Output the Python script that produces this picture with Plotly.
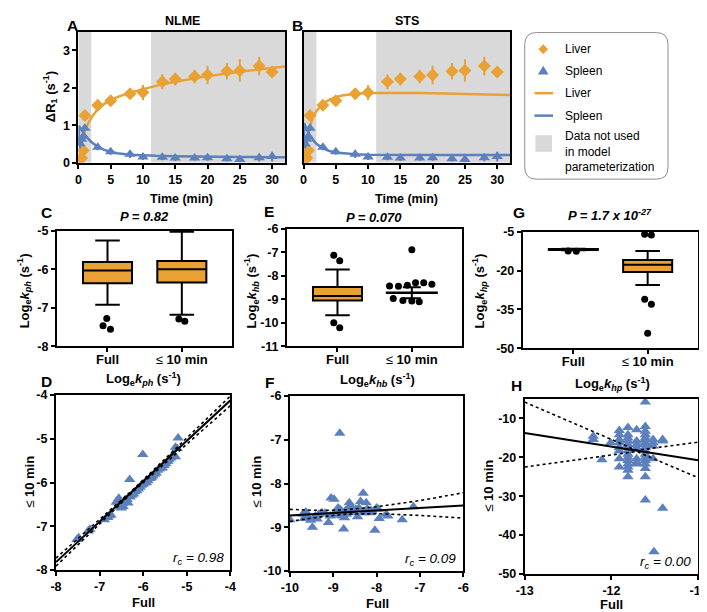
import plotly.graph_objects as go

# ---- data ----
# panels A/B: measured delta R1 (mean +/- error) for liver and spleen
times = [0.25, 0.5, 0.75, 1, 3, 5, 8, 10, 13, 15, 18, 20, 23, 25, 28, 30]
liver = [0.08, 0.12, 0.32, 1.26, 1.53, 1.65, 1.84, 1.87, 2.16, 2.23, 2.30, 2.34, 2.44, 2.46, 2.58, 2.42]
liver_err = [0.05, 0.08, 0.10, 0.12, 0.12, 0.13, 0.15, 0.20, 0.20, 0.17, 0.18, 0.25, 0.22, 0.30, 0.25, 0.15]
spleen = [0.50, 0.62, 0.70, 0.92, 0.41, 0.29, 0.22, 0.15, 0.14, 0.12, 0.12, 0.13, 0.10, 0.08, 0.13, 0.16]
spleen_err = [0.12, 0.10, 0.10, 0.08, 0.08, 0.08, 0.10, 0.08, 0.08, 0.08, 0.07, 0.08, 0.07, 0.07, 0.10, 0.13]

# model fits
fit_t = [0, 0.1, 0.25, 0.5, 1, 1.5, 2, 3, 4, 5, 6, 8, 10, 12, 15, 18, 20, 25, 30, 32]
nlme_liver_fit = [0, 0.12, 0.28, 0.50, 0.82, 1.04, 1.20, 1.43, 1.57, 1.67, 1.75, 1.87, 1.97, 2.05, 2.16, 2.25, 2.31, 2.43, 2.54, 2.57]
nlme_spleen_fit = [0.45, 0.98, 0.93, 0.86, 0.74, 0.64, 0.55, 0.42, 0.34, 0.29, 0.25, 0.21, 0.19, 0.18, 0.17, 0.16, 0.155, 0.15, 0.14, 0.14]
sts_liver_fit = [0, 0.15, 0.33, 0.60, 0.98, 1.22, 1.38, 1.57, 1.68, 1.75, 1.79, 1.84, 1.86, 1.865, 1.865, 1.86, 1.85, 1.835, 1.815, 1.805]
sts_spleen_fit = [0.45, 1.05, 0.98, 0.88, 0.72, 0.60, 0.50, 0.38, 0.31, 0.27, 0.25, 0.22, 0.21, 0.205, 0.20, 0.20, 0.20, 0.20, 0.20, 0.20]
excluded_windows = [(0, 2), (11.25, 32)]

# panel C: log kph box stats (q1, median, q3, lower whisker, upper whisker)
c_full_box = [-6.36, -6.03, -5.81, -6.92, -5.25]
c_ten_box = [-6.34, -6.00, -5.78, -7.18, -5.02]
c_out_x = [-0.01, -0.06, 0.04, 0.96, 1.04]
c_out_y = [-7.28, -7.47, -7.56, -7.29, -7.35]

# panel E: log khb
e_full_box = [-9.05, -8.86, -8.47, -9.68, -7.73]
e_out_x = [-0.05, 0.03, -0.05, 0.03]
e_out_y = [-7.12, -7.35, -10.0, -10.21]
e_ten_x = [1.0, 0.70, 0.82, 0.94, 1.05, 1.16, 1.27, 0.75, 0.88, 1.0, 1.10]
e_ten_y = [-6.88, -8.43, -8.44, -8.40, -8.29, -8.29, -8.36, -8.96, -9.05, -9.07, -9.10]
e_ten_center = -8.72
e_ten_err = [0.24, 0.23]

# panel G: log khp
g_full_box = [-12.0, -11.8, -11.6, -12.1, -11.5]
g_ten_box = [-20.5, -17.7, -15.9, -25.5, -12.4]
g_out_x = [-0.07, 0.04, 0.96, 1.05, 0.96, 1.05, 1.0]
g_out_y = [-12.4, -12.5, -5.9, -6.2, -31.1, -33.0, -44.2]

# panel D: full vs <=10 min, log kph
d_points = [(-7.52, -7.30), (-7.48, -7.26), (-7.26, -7.11), (-7.22, -7.07), (-6.89, -6.85),
            (-6.81, -6.80), (-6.78, -6.76), (-6.74, -6.74), (-6.56, -6.36), (-6.52, -6.56),
            (-6.48, -6.48), (-6.44, -6.44), (-6.41, -6.39), (-6.37, -6.39), (-6.31, -5.93),
            (-6.30, -6.33), (-6.26, -6.29), (-6.22, -6.26), (-6.19, -6.21), (-6.15, -6.19),
            (-6.11, -6.15), (-6.07, -6.11), (-6.04, -6.06), (-6.01, -5.36), (-6.00, -6.04),
            (-5.96, -6.01), (-5.93, -6.00), (-5.89, -5.96), (-5.85, -5.91), (-5.81, -5.89),
            (-5.78, -5.85), (-5.74, -5.81), (-5.70, -5.78), (-5.67, -5.72), (-5.63, -5.69),
            (-5.59, -5.66), (-5.56, -5.67), (-5.52, -5.61), (-5.48, -5.57), (-5.44, -5.52),
            (-5.41, -5.48), (-5.37, -5.44), (-5.33, -5.41), (-5.30, -5.37), (-5.26, -5.41),
            (-5.26, -5.19), (-5.22, -5.22), (-5.20, -4.98), (-6.46, -6.55), (-6.35, -6.47),
            (-6.50, -6.58), (-6.62, -6.45)]
d_fit_x = [-8, -4]
d_fit_y = [-7.82, -4.12]
d_ci_x = [-8, -6.2, -4]
d_ci_hi = [-7.73, -6.13, -4.02]
d_ci_lo = [-7.91, -6.18, -4.24]

# panel F: log khb
f_points = [(-10.0, -8.83), (-9.70, -8.70), (-9.63, -8.65), (-9.67, -8.80), (-9.56, -8.78),
            (-9.52, -8.84), (-9.48, -9.00), (-9.41, -8.74), (-9.37, -8.81), (-9.33, -8.70),
            (-9.26, -8.67), (-9.19, -8.68), (-9.11, -8.89), (-9.07, -8.74), (-9.05, -8.33),
            (-8.98, -8.36), (-8.96, -8.67), (-8.93, -8.63), (-8.89, -8.56), (-8.85, -8.59),
            (-8.85, -6.85), (-8.81, -8.63), (-8.78, -8.74), (-8.76, -9.04), (-8.74, -8.78),
            (-8.70, -8.70), (-8.67, -8.59), (-8.63, -8.44), (-8.59, -8.52), (-8.56, -8.63),
            (-8.52, -8.67), (-8.48, -8.59), (-8.44, -8.76), (-8.41, -8.56), (-8.37, -8.41),
            (-8.31, -8.22), (-8.30, -8.67), (-8.24, -8.44), (-8.22, -8.59), (-8.19, -8.63),
            (-8.15, -8.67), (-8.11, -8.63), (-8.04, -9.07), (-8.00, -8.56), (-7.96, -8.59),
            (-7.94, -8.80), (-7.78, -8.70), (-7.74, -8.74), (-7.41, -8.83), (-7.15, -8.53),
            (-8.88, -8.72), (-8.83, -8.67), (-8.72, -8.62), (-9.00, -8.72)]
f_fit_x = [-10, -6]
f_fit_y = [-8.73, -8.50]
f_ci_x = [-10, -9.5, -9, -8.7, -8, -7, -6]
f_ci_hi = [-8.59, -8.61, -8.61, -8.60, -8.53, -8.39, -8.21]
f_ci_lo = [-8.87, -8.79, -8.73, -8.70, -8.69, -8.73, -8.79]

# panel H: log khp (columns of full value -> list of <=10 min values)
h_columns = {
    -12.21: [-14.6, -15.4],
    -12.11: [-20.6],
    -12.01: [-16.25],
    -11.91: [-13.1, -14.2, -15.4, -16.25, -17.5, -18.3, -20.4, -22.5],
    -11.81: [-12.3, -14.2, -15.0, -15.8, -16.7, -17.5, -18.3, -19.2, -20.0, -20.8, -21.7, -22.5, -23.3, -25.0],
    -11.71: [-12.9, -15.8, -16.7, -17.5, -20.4, -21.3, -21.7],
    -11.61: [-5.8, -12.1, -13.3, -14.2, -15.0, -15.4, -16.25, -16.7, -17.5, -18.3, -19.2, -20.0, -20.8, -21.7, -22.9, -25.0, -31.0],
    -11.52: [-15.4, -16.25, -17.1, -20.4],
    -11.51: [-44.3],
    -11.41: [-15.4, -15.8, -33.1],
}
h_fit_x = [-13, -11]
h_fit_y = [-13.75, -20.75]
h_ci_x = [-13, -11.71, -11]
h_ci_hi = [-5.8, -18.2, -16.1]
h_ci_lo = [-22.5, -18.5, -25.25]

ORANGE = "#E8A132"
BLUE = "#5B80BD"
GREY = "#D9D9D9"
FONT = "Arial, Liberation Sans, sans-serif"
W, H = 707, 612


def px(x):
    return x / W


def py(y):
    return 1 - y / H


fig = go.Figure()

# ---- A and B: time courses ----
for xa, ya, lfit, sfit in [("x", "y", nlme_liver_fit, nlme_spleen_fit),
                           ("x2", "y2", sts_liver_fit, sts_spleen_fit)]:
    fig.add_trace(go.Scatter(x=fit_t, y=lfit, mode="lines", line=dict(color=ORANGE, width=2.5),
                             xaxis=xa, yaxis=ya))
    fig.add_trace(go.Scatter(x=fit_t, y=sfit, mode="lines", line=dict(color=BLUE, width=2.5),
                             xaxis=xa, yaxis=ya))
    fig.add_trace(go.Scatter(x=times, y=liver, mode="markers",
                             marker=dict(symbol="diamond", size=10, color=ORANGE),
                             error_y=dict(type="data", array=liver_err, width=0, thickness=2, color=ORANGE),
                             xaxis=xa, yaxis=ya))
    fig.add_trace(go.Scatter(x=times, y=spleen, mode="markers",
                             marker=dict(symbol="triangle-up", size=10, color=BLUE),
                             error_y=dict(type="data", array=spleen_err, width=0, thickness=2, color=BLUE),
                             xaxis=xa, yaxis=ya))


def add_box(stats, pos, xa, ya):
    q1, med, q3, lo, hi = stats
    fig.add_trace(go.Box(x=[pos], q1=[q1], median=[med], q3=[q3], lowerfence=[lo], upperfence=[hi],
                         orientation="v", fillcolor=ORANGE, line=dict(color="black", width=2), width=0.66,
                         whiskerwidth=0.5, boxpoints=False, xaxis=xa, yaxis=ya))


def add_dots(xs, ys, xa, ya):
    fig.add_trace(go.Scatter(x=xs, y=ys, mode="markers", marker=dict(color="black", size=7),
                             xaxis=xa, yaxis=ya))


# ---- C ----
add_box(c_full_box, 0, "x3", "y3")
add_box(c_ten_box, 1, "x3", "y3")
add_dots(c_out_x, c_out_y, "x3", "y3")

# ---- E ----
add_box(e_full_box, 0, "x4", "y4")
add_dots(e_out_x, e_out_y, "x4", "y4")
add_dots(e_ten_x, e_ten_y, "x4", "y4")
fig.add_trace(go.Scatter(x=[0.65, 1.35], y=[e_ten_center] * 2, mode="lines",
                         line=dict(color="black", width=2.5), xaxis="x4", yaxis="y4"))
fig.add_trace(go.Scatter(x=[1], y=[e_ten_center], mode="markers", marker=dict(size=1, color="black"),
                         error_y=dict(type="data", symmetric=False, array=[e_ten_err[0]],
                                      arrayminus=[e_ten_err[1]], width=9, thickness=2, color="black"),
                         xaxis="x4", yaxis="y4"))

# ---- G ----
add_box(g_full_box, 0, "x5", "y5")
add_box(g_ten_box, 1, "x5", "y5")
add_dots(g_out_x, g_out_y, "x5", "y5")


# ---- D, F, H scatter ----
def add_agreement(xs, ys, fx, fy, cx, chi, clo, xa, ya):
    fig.add_trace(go.Scatter(x=xs, y=ys, mode="markers",
                             marker=dict(symbol="triangle-up", size=10, color=BLUE),
                             xaxis=xa, yaxis=ya))
    for cy in (chi, clo):
        fig.add_trace(go.Scatter(x=cx, y=cy, mode="lines", line=dict(color="black", width=1.6, dash="dot"),
                                 xaxis=xa, yaxis=ya))
    fig.add_trace(go.Scatter(x=fx, y=fy, mode="lines", line=dict(color="black", width=2),
                             xaxis=xa, yaxis=ya))


d_full = [p[0] for p in d_points]
d_ten = [p[1] for p in d_points]
add_agreement(d_full, d_ten, d_fit_x, d_fit_y, d_ci_x, d_ci_hi, d_ci_lo, "x6", "y6")

f_full = [p[0] for p in f_points]
f_ten = [p[1] for p in f_points]
add_agreement(f_full, f_ten, f_fit_x, f_fit_y, f_ci_x, f_ci_hi, f_ci_lo, "x7", "y7")

h_full, h_ten = [], []
for k, vals in h_columns.items():
    h_full += [k] * len(vals)
    h_ten += vals
add_agreement(h_full, h_ten, h_fit_x, h_fit_y, h_ci_x, h_ci_hi, h_ci_lo, "x8", "y8")

# ---- axes ----
tickfont = dict(family=FONT, size=12.5, color="black", weight="bold")


def axis(dom, rng, tickvals=None, **kw):
    d = dict(domain=dom, range=rng, showline=True, linecolor="black", linewidth=2, mirror=True,
             ticks="outside", ticklen=4, tickwidth=2, tickcolor="black", showgrid=False,
             zeroline=False, tickfont=tickfont, fixedrange=True)
    if tickvals is not None:
        # plain hyphen minus signs like the original
        d.update(tickvals=tickvals, ticktext=[str(v) for v in tickvals])
    d.update(kw)
    return d


cat_ticks = dict(tickvals=[0, 1], ticktext=["<b>Full</b>", "≤ <b>10 min</b>"],
                 tickfont=dict(family=FONT, size=13, color="black"), ticklabelstandoff=-4)

layout = dict(
    xaxis=axis([px(63), px(275)], [0, 32], [0, 5, 10, 15, 20, 25, 30], anchor="y"),
    yaxis=axis([py(151), py(17)], [0, 3.5], [0, 1, 2, 3], anchor="x"),
    xaxis2=axis([px(294), px(506)], [0, 32], [0, 5, 10, 15, 20, 25, 30], anchor="y2"),
    yaxis2=axis([py(151), py(17)], [0, 3.5], ticks="", showticklabels=False, anchor="x2"),
    xaxis3=axis([px(41), px(221)], [-0.68, 1.68], anchor="y3", **cat_ticks),
    yaxis3=axis([py(339), py(221)], [-8, -5], [-5, -6, -7, -8], anchor="x3"),
    xaxis4=axis([px(277), px(457)], [-0.68, 1.68], anchor="y4", **cat_ticks),
    yaxis4=axis([py(339), py(219)], [-11, -6], [-6, -7, -8, -9, -10, -11], anchor="x4"),
    xaxis5=axis([px(519), px(699)], [-0.68, 1.68], anchor="y5", **cat_ticks),
    yaxis5=axis([py(341), py(222)], [-50, -5], [-5, -20, -35, -50], anchor="x5"),
    xaxis6=axis([px(40), px(219)], [-8, -4], [-8, -7, -6, -5, -4], anchor="y6"),
    yaxis6=axis([py(568), py(389)], [-8, -4], [-4, -5, -6, -7, -8], anchor="x6"),
    xaxis7=axis([px(280), px(458)], [-10, -6], [-10, -9, -8, -7, -6], anchor="y7"),
    yaxis7=axis([py(569), py(390)], [-10, -6], [-6, -7, -8, -9, -10], anchor="x7"),
    xaxis8=axis([px(521), px(699)], [-13, -11], [-13, -12, -11], anchor="y8"),
    yaxis8=axis([py(572), py(393)], [-50, -5], [-10, -20, -30, -40, -50], anchor="x8"),
)

# ---- shapes: excluded windows and legend ----
shapes = []
for xa in ("x", "x2"):
    for x0, x1 in excluded_windows:
        shapes.append(dict(type="rect", xref=xa, yref=xa.replace("x", "y") + " domain", x0=x0, x1=x1,
                           y0=0, y1=1, fillcolor=GREY, line=dict(width=0), layer="below"))


def rounded_rect(x0, y0, x1, y1, r):
    return (f"M {px(x0 + r)} {py(y0)} L {px(x1 - r)} {py(y0)} Q {px(x1)} {py(y0)} {px(x1)} {py(y0 + r)} "
            f"L {px(x1)} {py(y1 - r)} Q {px(x1)} {py(y1)} {px(x1 - r)} {py(y1)} "
            f"L {px(x0 + r)} {py(y1)} Q {px(x0)} {py(y1)} {px(x0)} {py(y1 - r)} "
            f"L {px(x0)} {py(y0 + r)} Q {px(x0)} {py(y0)} {px(x0 + r)} {py(y0)} Z")


def poly(pts):
    return "M " + " L ".join(f"{px(x)} {py(y)}" for x, y in pts) + " Z"


shapes.append(dict(type="path", xref="paper", yref="paper", path=rounded_rect(521, 18, 668, 168, 12),
                   line=dict(color="#8C8C8C", width=1), fillcolor="white"))
# legend symbols
shapes.append(dict(type="path", xref="paper", yref="paper",
                   path=poly([(540, 30), (545, 35), (540, 40), (535, 35)]),
                   fillcolor=ORANGE, line=dict(width=0)))
shapes.append(dict(type="path", xref="paper", yref="paper",
                   path=poly([(540, 52), (545.5, 61), (534.5, 61)]),
                   fillcolor=BLUE, line=dict(width=0)))
shapes.append(dict(type="line", xref="paper", yref="paper", x0=px(531), x1=px(550), y0=py(80), y1=py(80),
                   line=dict(color=ORANGE, width=2.5)))
shapes.append(dict(type="line", xref="paper", yref="paper", x0=px(531), x1=px(550), y0=py(103), y1=py(103),
                   line=dict(color=BLUE, width=2.5)))
shapes.append(dict(type="rect", xref="paper", yref="paper", x0=px(532), x1=px(549), y0=py(140), y1=py(123),
                   fillcolor=GREY, line=dict(width=0)))

# ---- annotations ----
ann = []


def note(text, x, y, size=13, bold=True, angle=0, italic=False, xanchor="center"):
    if italic:
        text = f"<i>{text}</i>"
    ann.append(dict(text=text, x=px(x), y=py(y), xref="paper", yref="paper", showarrow=False,
                    xanchor=xanchor, yanchor="middle", textangle=angle,
                    font=dict(family=FONT, size=size, color="black", weight="bold" if bold else "normal")))


for letter, x, y in [("A", 57, 11), ("B", 288, 11), ("C", 30, 202), ("E", 259, 201),
                     ("G", 515, 202), ("D", 30, 375), ("F", 259, 376), ("H", 513, 379)]:
    note(letter, x, y, size=15.5)

note("NLME", 170, 6, size=12.5)
note("STS", 400, 6, size=12.5)
note("ΔR<sub>1</sub> (s<sup>-1</sup>)", 34, 84, angle=-90)
note("Time (min)", 169, 188, size=12.5)
note("Time (min)", 400, 188, size=12.5)

note("P = 0.82", 131, 206, italic=True)
note("P = 0.070", 366, 207, italic=True)
note("P = 1.7 x 10<sup>-27</sup>", 609, 205, italic=True)

for k, x, y in [("ph", 7, 282), ("hb", 240, 282), ("hp", 474, 282)]:
    note(f"Log<sub>e</sub><i>k<sub>{k}</sub></i> (s<sup>-1</sup>)", x, y, angle=-90)
for k, x, y in [("ph", 130, 373), ("hb", 370, 374), ("hp", 611, 378)]:
    note(f"Log<sub>e</sub><i>k<sub>{k}</sub></i> (s<sup>-1</sup>)", x, y)

for x, y in [(12, 478), (245, 478), (484, 482)]:
    note("≤ <b>10 min</b>", x, y, bold=False, angle=-90)
for x, y in [(130, 601), (370, 602), (610, 603)]:
    note("Full", x, y)

for val, x, y in [("0.98", 214, 556), ("0.09", 453, 557), ("0.00", 694, 560)]:
    note(f"r<sub>c</sub> = {val}", x, y, size=13.5, bold=False, italic=True, xanchor="right")

# legend text
note("Liver", 560, 35, size=12, bold=False, xanchor="left")
note("Spleen", 560, 57, size=12, bold=False, xanchor="left")
note("Liver", 560, 80, size=12, bold=False, xanchor="left")
note("Spleen", 560, 103, size=12, bold=False, xanchor="left")
ann.append(dict(text="Data not used<br>in model<br>parameterization", x=px(560), y=py(140),
                xref="paper", yref="paper", showarrow=False, xanchor="left", yanchor="middle",
                align="left", font=dict(family=FONT, size=12, color="black")))

fig.update_layout(**layout)
fig.update_layout(width=W, height=H, margin=dict(l=0, r=0, t=0, b=0), showlegend=False,
                  plot_bgcolor="white", paper_bgcolor="white", shapes=shapes, annotations=ann,
                  font=dict(family=FONT, color="black"))

fig.write_html("out.html")
